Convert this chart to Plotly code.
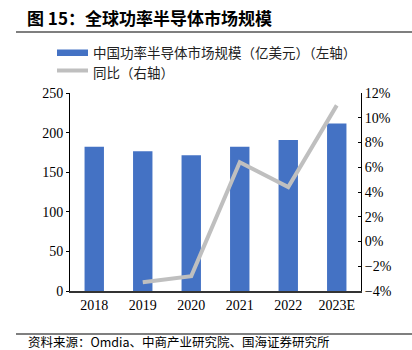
import plotly.graph_objects as go

years = ["2018", "2019", "2020", "2021", "2022", "2023E"]
market_size = [182, 176.5, 171.5, 182, 190.5, 211.5]
yoy_years = ["2019", "2020", "2021", "2022", "2023E"]
yoy_pct = [-3.3, -2.8, 6.4, 4.4, 11.0]

bar_name = "中国功率半导体市场规模（亿美元）（左轴）"
line_name = "同比（右轴）"
title_text = "图 15：全球功率半导体市场规模"
source_text = "资料来源：Omdia、中商产业研究院、国海证券研究所"

y_ticks = [0, 50, 100, 150, 200, 250]
y2_ticks = [-4, -2, 0, 2, 4, 6, 8, 10, 12]

W, H = 412, 350
L, R, T, B = 70, 51, 93, 59
pw, ph = W - L - R, H - T - B

def px(x):
    return (x - L) / pw

def py(y):
    return (H - B - y) / ph

cjk = "Noto Sans CJK SC"
serif = "Liberation Serif"
bar_color = "#4472C4"
line_color = "#BFBFBF"

fig = go.Figure()
fig.add_trace(go.Bar(x=years, y=market_size, name=bar_name,
                     marker=dict(color=bar_color, line=dict(width=0)), yaxis="y"))
fig.add_trace(go.Scatter(x=yoy_years, y=[v / 100 for v in yoy_pct], name=line_name,
                         mode="lines", line=dict(color=line_color, width=4), yaxis="y2"))

fig.update_layout(
    width=W, height=H,
    margin=dict(l=L, r=R, t=T, b=B, pad=0),
    paper_bgcolor="white", plot_bgcolor="white",
    bargap=0.6,
    showlegend=False,
    xaxis=dict(type="category", showline=True, linecolor="#333", linewidth=1.5,
               ticks="", tickfont=dict(family=serif, size=14, color="black"),
               showgrid=False, zeroline=False),
    yaxis=dict(range=[0, 250], tickvals=y_ticks, showline=True, linecolor="black",
               linewidth=1, ticks="outside", ticklen=3, tickcolor="black",
               tickfont=dict(family=serif, size=14, color="black"),
               showgrid=False, zeroline=False),
    yaxis2=dict(range=[-0.04, 0.12], tickvals=[v / 100 for v in y2_ticks],
                tickformat=".0%", overlaying="y", side="right", showline=True,
                linecolor="black", linewidth=1, ticks="inside", ticklen=3,
                tickcolor="black", tickfont=dict(family=serif, size=14, color="black"),
                showgrid=False, zeroline=False),
    title=dict(text="<b>" + title_text + "</b>", xref="container", yref="container",
               x=27 / W, xanchor="left", y=1 - 19 / H, yanchor="middle",
               font=dict(family=cjk, size=17, color="black")),
    shapes=[
        dict(type="line", xref="paper", yref="paper", x0=px(16), x1=px(412),
             y0=py(32), y1=py(32), line=dict(color="#555", width=1.5)),
        dict(type="line", xref="paper", yref="paper", x0=px(16), x1=px(412),
             y0=py(334), y1=py(334), line=dict(color="#555", width=1.5)),
        # legend keys
        dict(type="rect", xref="paper", yref="paper", x0=px(57), x1=px(88),
             y0=py(56), y1=py(49.5), fillcolor=bar_color, line=dict(width=0)),
        dict(type="line", xref="paper", yref="paper", x0=px(57), x1=px(88),
             y0=py(70.5), y1=py(70.5), line=dict(color=line_color, width=4)),
    ],
    annotations=[
        dict(text=bar_name, xref="paper", yref="paper", x=px(92), y=py(52.5),
             xanchor="left", yanchor="middle", showarrow=False, borderpad=0,
             font=dict(family=cjk, size=13.5, color="#222")),
        dict(text=line_name, xref="paper", yref="paper", x=px(92), y=py(71.5),
             xanchor="left", yanchor="middle", showarrow=False, borderpad=0,
             font=dict(family=cjk, size=13.5, color="#222")),
        dict(text=source_text, xref="paper", yref="paper", x=px(27), y=py(341.5),
             xanchor="left", yanchor="middle", showarrow=False, borderpad=0,
             font=dict(family=cjk, size=12.5, color="black")),
    ],
)

fig.write_html("out.html")
